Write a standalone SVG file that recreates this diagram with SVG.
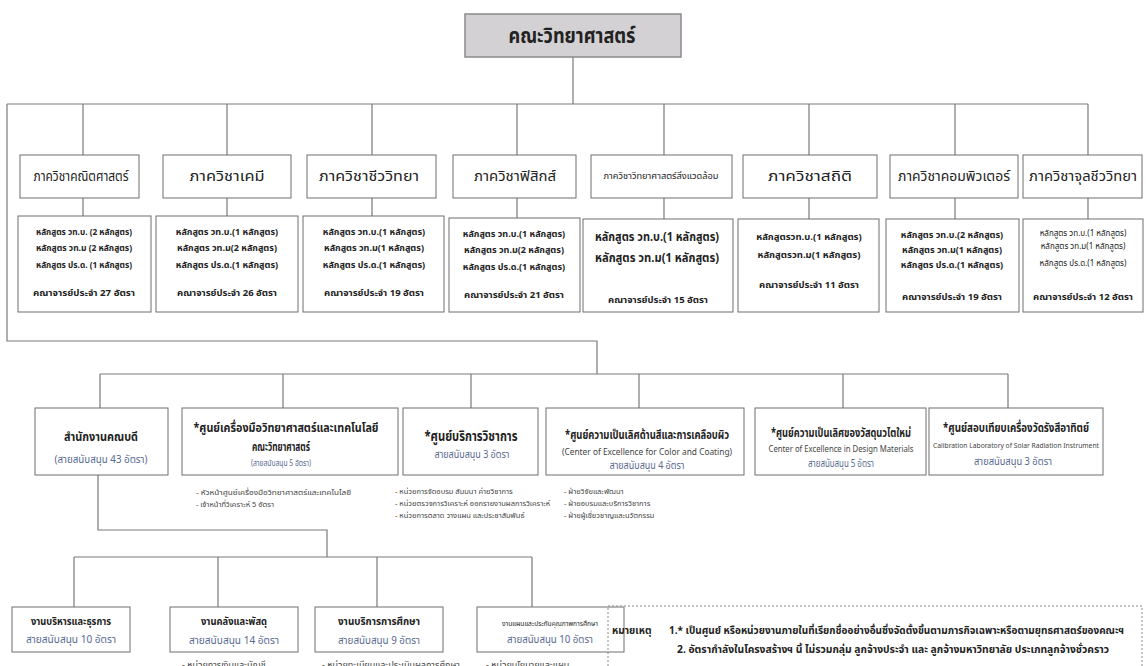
<svg xmlns="http://www.w3.org/2000/svg" width="1146" height="666" viewBox="0 0 1146 666">
<style>
text{font-family:"Noto Sans Thai","Noto Serif Thai","Loma","Garuda","Tlwg Typo","Noto Sans","DejaVu Sans",sans-serif;fill:#222;text-anchor:middle}
.box{fill:#fff;stroke:#6e6e6e;stroke-width:1}
.ln{fill:none;stroke:#7a7a7a;stroke-width:1.2}
.dept{font-size:14px}
.cur{font-size:9px;font-weight:bold}
.fac{font-size:9.5px;font-weight:bold}
.t{font-size:13px;font-weight:bold}
.s{font-size:10px;fill:#56698f}
.e{font-size:8px;fill:#444}
.li{font-size:7.5px;fill:#444;text-anchor:start}
.b{font-size:10.5px;font-weight:bold}
</style>
<rect width="1146" height="666" fill="#fff"/>
<g id="connectors">
<path class="ln" d="M573 57V104M7 104H1088M83 104V155M227 104V155M372 104V155M517 104V155M664 104V155M809 104V155M955 104V155M1088 104V155"/>
<path class="ln" d="M83 198V216M227 198V216M372 198V216M517 198V218M664 198V219M809 198V219M955 198V219M1088 198V219"/>
<path class="ln" d="M7 104V341H597V374M100 374H1008M100 374V408M283 374V408M471 374V408M639 374V408M843 374V408M1008 374V408"/>
<path class="ln" d="M98 475V530H327V557M74 557H532M74 557V607M218 557V607M377 557V607M532 557V607"/>
</g>
<g id="faculty">
<rect x="465" y="14" width="216" height="43" fill="#d3d1d3" stroke="#8a8a8a" stroke-width="1.5"/>
<text x="572" y="43" textLength="127" lengthAdjust="spacingAndGlyphs" style="font-size:21px;font-weight:bold">คณะวิทยาศาสตร์</text>
</g>
<g id="dept-math">
<rect class="box" x="20" y="155" width="119" height="43"/>
<text class="dept" x="81" y="181" textLength="95" lengthAdjust="spacingAndGlyphs">ภาควิชาคณิตศาสตร์</text>
<rect class="box" x="18" y="216" width="133" height="96"/>
<text class="cur" x="84" y="235" textLength="96" lengthAdjust="spacingAndGlyphs">หลักสูตร วท.บ. (2 หลักสูตร)</text>
<text class="cur" x="84" y="251" textLength="96" lengthAdjust="spacingAndGlyphs">หลักสูตร วท.ม (2 หลักสูตร)</text>
<text class="cur" x="84" y="268" textLength="96" lengthAdjust="spacingAndGlyphs">หลักสูตร ปร.ด. (1 หลักสูตร)</text>
<text class="fac" x="84" y="296" textLength="102" lengthAdjust="spacingAndGlyphs">คณาจารย์ประจำ 27 อัตรา</text>
</g>
<g id="dept-chem">
<rect class="box" x="163" y="155" width="128" height="43"/>
<text class="dept" x="227" y="181" textLength="75" lengthAdjust="spacingAndGlyphs">ภาควิชาเคมี</text>
<rect class="box" x="156" y="216" width="142" height="96"/>
<text class="cur" x="227" y="235">หลักสูตร วท.บ.(1 หลักสูตร)</text>
<text class="cur" x="227" y="251">หลักสูตร วท.ม(2 หลักสูตร)</text>
<text class="cur" x="227" y="268">หลักสูตร ปร.ด.(1 หลักสูตร)</text>
<text class="fac" x="227" y="296">คณาจารย์ประจำ 26 อัตรา</text>
</g>
<g id="dept-bio">
<rect class="box" x="307" y="155" width="129" height="43"/>
<text class="dept" x="369" y="181" textLength="100" lengthAdjust="spacingAndGlyphs">ภาควิชาชีววิทยา</text>
<rect class="box" x="303" y="216" width="141" height="96"/>
<text class="cur" x="374" y="235">หลักสูตร วท.บ.(1 หลักสูตร)</text>
<text class="cur" x="374" y="251">หลักสูตร วท.ม(1 หลักสูตร)</text>
<text class="cur" x="374" y="268">หลักสูตร ปร.ด.(1 หลักสูตร)</text>
<text class="fac" x="374" y="296">คณาจารย์ประจำ 19 อัตรา</text>
</g>
<g id="dept-phys">
<rect class="box" x="453" y="155" width="123" height="43"/>
<text class="dept" x="515" y="181" textLength="82" lengthAdjust="spacingAndGlyphs">ภาควิชาฟิสิกส์</text>
<rect class="box" x="449" y="218" width="131" height="94"/>
<text class="cur" x="514" y="237">หลักสูตร วท.บ.(1 หลักสูตร)</text>
<text class="cur" x="514" y="253">หลักสูตร วท.ม(2 หลักสูตร)</text>
<text class="cur" x="514" y="270">หลักสูตร ปร.ด.(1 หลักสูตร)</text>
<text class="fac" x="514" y="298">คณาจารย์ประจำ 21 อัตรา</text>
</g>
<g id="dept-env">
<rect class="box" x="591" y="155" width="141" height="43"/>
<text x="661" y="179" textLength="115" lengthAdjust="spacingAndGlyphs" style="font-size:9px">ภาควิชาวิทยาศาสตร์สิ่งแวดล้อม</text>
<rect class="box" x="583" y="219" width="150" height="93"/>
<text x="657" y="241" textLength="124" lengthAdjust="spacingAndGlyphs" style="font-size:12.5px;font-weight:bold">หลักสูตร วท.บ.(1 หลักสูตร)</text>
<text x="657" y="262" textLength="124" lengthAdjust="spacingAndGlyphs" style="font-size:12.5px;font-weight:bold">หลักสูตร วท.ม(1 หลักสูตร)</text>
<text class="fac" x="658" y="303">คณาจารย์ประจำ 15 อัตรา</text>
</g>
<g id="dept-stat">
<rect class="box" x="743" y="155" width="134" height="43"/>
<text class="dept" x="810" y="181" textLength="84" lengthAdjust="spacingAndGlyphs">ภาควิชาสถิติ</text>
<rect class="box" x="738" y="219" width="141" height="93"/>
<text class="fac" x="809" y="240">หลักสูตรวท.บ.(1 หลักสูตร)</text>
<text class="fac" x="809" y="258">หลักสูตรวท.ม(1 หลักสูตร)</text>
<text class="fac" x="809" y="288">คณาจารย์ประจำ 11 อัตรา</text>
</g>
<g id="dept-comp">
<rect class="box" x="890" y="155" width="128" height="43"/>
<text class="dept" x="954" y="181" textLength="112" lengthAdjust="spacingAndGlyphs">ภาควิชาคอมพิวเตอร์</text>
<rect class="box" x="886" y="219" width="133" height="93"/>
<text class="cur" x="952" y="238">หลักสูตร วท.บ.(2 หลักสูตร)</text>
<text class="cur" x="952" y="253">หลักสูตร วท.ม(1 หลักสูตร)</text>
<text class="cur" x="952" y="268">หลักสูตร ปร.ด.(1 หลักสูตร)</text>
<text class="fac" x="952" y="300">คณาจารย์ประจำ 19 อัตรา</text>
</g>
<g id="dept-micro">
<rect class="box" x="1023" y="155" width="119" height="43"/>
<text class="dept" x="1083" y="181" textLength="108" lengthAdjust="spacingAndGlyphs">ภาควิชาจุลชีววิทยา</text>
<rect class="box" x="1023" y="219" width="120" height="93"/>
<text x="1083" y="236" style="font-size:8px">หลักสูตร วท.บ.(1 หลักสูตร)</text>
<text x="1083" y="249" style="font-size:8px">หลักสูตร วท.ม(1 หลักสูตร)</text>
<text x="1083" y="266" style="font-size:8px">หลักสูตร ปร.ด.(1 หลักสูตร)</text>
<text class="fac" x="1083" y="300">คณาจารย์ประจำ 12 อัตรา</text>
</g>
<g id="dean-office">
<rect class="box" x="35" y="408" width="133" height="67"/>
<text class="t" x="101" y="441" textLength="74" lengthAdjust="spacingAndGlyphs">สำนักงานคณบดี</text>
<text class="s" x="101" y="463" textLength="93" lengthAdjust="spacingAndGlyphs">(สายสนับสนุน 43 อัตรา)</text>
</g>
<g id="sci-instrument">
<rect class="box" x="182" y="408" width="216" height="67"/>
<text class="t" x="286" y="432" textLength="185" lengthAdjust="spacingAndGlyphs" style="font-size:12px">*ศูนย์เครื่องมือวิทยาศาสตร์และเทคโนโลยี</text>
<text class="t" x="281" y="451" textLength="58" lengthAdjust="spacingAndGlyphs" style="font-size:11.5px">คณะวิทยาศาสตร์</text>
<text class="s" x="281" y="466" textLength="60" lengthAdjust="spacingAndGlyphs" style="font-size:8px">(สายสนับสนุน 5 อัตรา)</text>
<text class="li" x="196" y="495" textLength="155" lengthAdjust="spacingAndGlyphs">-   หัวหน้าศูนย์เครื่องมือวิทยาศาสตร์และเทคโนโลยี</text>
<text class="li" x="196" y="507">-   เจ้าหน้าที่วิเคราะห์ 5 อัตรา</text>
</g>
<g id="academic-service">
<rect class="box" x="403" y="408" width="135" height="67"/>
<text class="t" x="471" y="441" textLength="93" lengthAdjust="spacingAndGlyphs" style="font-size:14px">*ศูนย์บริการวิชาการ</text>
<text class="s" x="472" y="458" textLength="75" lengthAdjust="spacingAndGlyphs">สายสนับสนุน 3 อัตรา</text>
<text class="li" x="395" y="494">- หน่วยการจัดอบรม สัมมนา ค่ายวิชาการ</text>
<text class="li" x="395" y="506">- หน่วยตรวจการวิเคราะห์ ออกรายงานผลการวิเคราะห์</text>
<text class="li" x="395" y="518">- หน่วยการตลาด วางแผน และประชาสัมพันธ์</text>
</g>
<g id="color-coating">
<rect class="box" x="546" y="408" width="198" height="67"/>
<text class="t" x="647" y="439" textLength="164" lengthAdjust="spacingAndGlyphs" style="font-size:12px">*ศูนย์ความเป็นเลิศด้านสีและการเคลือบผิว</text>
<text class="e" x="647" y="455" textLength="170" lengthAdjust="spacingAndGlyphs">(Center of Excellence for Color and Coating)</text>
<text class="s" x="647" y="469" textLength="75" lengthAdjust="spacingAndGlyphs">สายสนับสนุน 4 อัตรา</text>
<text class="li" x="564" y="494">- ฝ่ายวิจัยและพัฒนา</text>
<text class="li" x="564" y="506">- ฝ่ายอบรมและบริการวิชาการ</text>
<text class="li" x="564" y="518">- ฝ่ายผู้เชี่ยวชาญและนวัตกรรม</text>
</g>
<g id="design-materials">
<rect class="box" x="755" y="408" width="171" height="67"/>
<text class="t" x="841" y="437" textLength="140" lengthAdjust="spacingAndGlyphs" style="font-size:12px">*ศูนย์ความเป็นเลิศของวัสดุนวไตใหม่</text>
<text class="e" x="841" y="452" textLength="145" lengthAdjust="spacingAndGlyphs">Center of Excellence in Design Materials</text>
<text class="s" x="841" y="467" textLength="66" lengthAdjust="spacingAndGlyphs">สายสนับสนุน 5 อัตรา</text>
</g>
<g id="solar-calibration">
<rect class="box" x="929" y="408" width="174" height="67"/>
<text class="t" x="1016" y="432" textLength="146" lengthAdjust="spacingAndGlyphs" style="font-size:12px">*ศูนย์สอบเทียบเครื่องวัดรังสีอาทิตย์</text>
<text class="e" x="1016" y="448" textLength="166" lengthAdjust="spacingAndGlyphs" style="font-size:6.5px">Calibration Laboratory of Solar Radiation Instrument</text>
<text class="s" x="1013" y="465" textLength="78" lengthAdjust="spacingAndGlyphs">สายสนับสนุน 3 อัตรา</text>
</g>
<g id="admin">
<rect class="box" x="12" y="607" width="118" height="45"/>
<text class="b" x="71" y="625" textLength="80" lengthAdjust="spacingAndGlyphs">งานบริหารและธุรการ</text>
<text class="s" x="71" y="643" textLength="90" lengthAdjust="spacingAndGlyphs" style="font-size:10.5px">สายสนับสนุน 10 อัตรา</text>
</g>
<g id="finance">
<rect class="box" x="170" y="607" width="128" height="45"/>
<text class="b" x="234" y="625" textLength="66" lengthAdjust="spacingAndGlyphs">งานคลังและพัสดุ</text>
<text class="s" x="234" y="644" textLength="90" lengthAdjust="spacingAndGlyphs" style="font-size:10.5px">สายสนับสนุน 14 อัตรา</text>
<text class="li" x="182" y="668" style="font-size:9px">-   หน่วยการเงินและบัญชี</text>
</g>
<g id="education-service">
<rect class="box" x="315" y="607" width="128" height="45"/>
<text class="b" x="379" y="625" textLength="82" lengthAdjust="spacingAndGlyphs">งานบริการการศึกษา</text>
<text class="s" x="379" y="644" textLength="82" lengthAdjust="spacingAndGlyphs" style="font-size:10.5px">สายสนับสนุน 9 อัตรา</text>
<text class="li" x="322" y="668" style="font-size:9px">-   หน่วยทะเบียนและประเมินผลการศึกษา</text>
</g>
<g id="planning-qa">
<rect class="box" x="477" y="607" width="147" height="45"/>
<text x="550" y="626" textLength="96" lengthAdjust="spacingAndGlyphs" style="font-size:7px">งานแผนและประกันคุณภาพการศึกษา</text>
<text class="s" x="550" y="643" textLength="86" lengthAdjust="spacingAndGlyphs" style="font-size:10.5px">สายสนับสนุน 10 อัตรา</text>
<text class="li" x="486" y="668" style="font-size:9px">-   หน่วยนโยบายและแผน</text>
</g>
<g id="remarks">
<rect x="608" y="606" width="534" height="80" fill="none" stroke="#888" stroke-width="1" stroke-dasharray="2 2"/>
<text x="612" y="634" style="font-size:10px;font-weight:bold;text-anchor:start">หมายเหตุ</text>
<text x="669" y="634" textLength="455" lengthAdjust="spacingAndGlyphs" style="font-size:10px;font-weight:bold;text-anchor:start">1.* เป็นศูนย์ หรือหน่วยงานภายในที่เรียกชื่ออย่างอื่นซึ่งจัดตั้งขึ้นตามภารกิจเฉพาะหรือตามยุทธศาสตร์ของคณะฯ</text>
<text x="677" y="653" textLength="432" lengthAdjust="spacingAndGlyphs" style="font-size:10px;font-weight:bold;text-anchor:start">2.  อัตรากำลังในโครงสร้างฯ นี้ ไม่รวมกลุ่ม ลูกจ้างประจำ และ ลูกจ้างมหาวิทยาลัย ประเภทลูกจ้างชั่วคราว</text>
</g>
</svg>
